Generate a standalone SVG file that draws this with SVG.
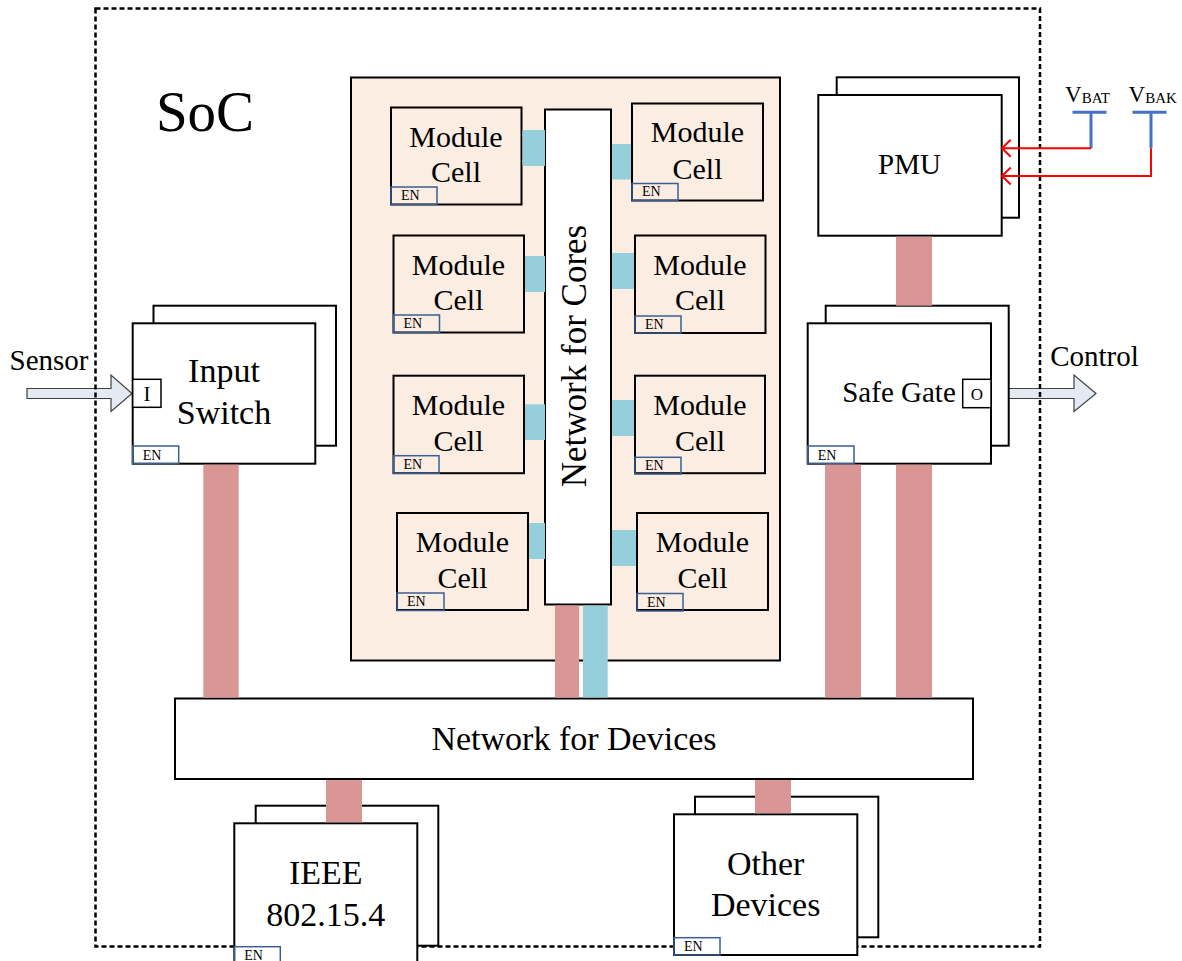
<svg xmlns="http://www.w3.org/2000/svg" width="1182" height="961" viewBox="0 0 1182 961">
<style>
.t{font-family:"Liberation Serif","Times New Roman",serif;fill:#000}
.box{fill:#fff;stroke:#000;stroke-width:2}
.peach{fill:#fcede3;stroke:#000;stroke-width:2}
.cell{fill:#fcede3;stroke:#000;stroke-width:2}
.en{fill:none;stroke:#3a5f95;stroke-width:1.5}
.ent{font-family:"Liberation Serif","Times New Roman",serif;font-size:14px;fill:#000}
.red{fill:#d99694}
.aqua{fill:#96cfdc}
.pin{fill:#fff;stroke:#000;stroke-width:1.5}
.barrow{fill:#e4eaf4;stroke:#404040;stroke-width:1.2}
.vline{stroke:#ff0000;stroke-width:2;fill:none}
.bat{stroke:#4472c4;stroke-width:3;fill:none}
</style>
<rect width="1182" height="961" fill="#fff"/>

<g id="io-arrows">
  <polygon class="barrow" points="27,388.5 111,388.5 111,375 132,393.5 111,411.5 111,398.5 27,398.5"/>
  <polygon class="barrow" points="991,388.5 1074,388.5 1074,375 1096,393.5 1074,411.5 1074,398.5 991,398.5"/>
</g>

<g id="soc-border">
  <rect x="95.5" y="8.5" width="944.5" height="938" fill="none" stroke="#000" stroke-width="2.5" stroke-dasharray="5 3"/>
  <text class="t" x="205" y="131" font-size="57" text-anchor="middle">SoC</text>
</g>

<g id="core-area">
  <rect class="peach" x="351" y="77.5" width="429" height="583"/>
</g>

<g id="network-cores">
  <rect class="box" x="545" y="109.5" width="66" height="495"/>
  <text class="t" x="586" y="356" font-size="35" text-anchor="middle" transform="rotate(-90 586 356)">Network for Cores</text>
</g>

<g id="cell-l1">
  <rect class="cell" x="391" y="107.5" width="130.5" height="97"/>
  <rect class="en" x="391" y="187" width="46" height="17.5"/>
  <text class="ent" x="401" y="200">EN</text>
  <text class="t" x="456" y="146.5" font-size="30" text-anchor="middle">Module</text>
  <text class="t" x="456" y="182" font-size="30" text-anchor="middle">Cell</text>
</g>
<g id="cell-r1">
  <rect class="cell" x="632" y="103.5" width="131" height="97"/>
  <rect class="en" x="632" y="183.5" width="46" height="17"/>
  <text class="ent" x="642" y="196">EN</text>
  <text class="t" x="697.5" y="142" font-size="30" text-anchor="middle">Module</text>
  <text class="t" x="697.5" y="178.5" font-size="30" text-anchor="middle">Cell</text>
</g>
<g id="cell-l2">
  <rect class="cell" x="393.5" y="235.5" width="130.5" height="97"/>
  <rect class="en" x="393.5" y="315" width="46" height="17.5"/>
  <text class="ent" x="403.5" y="328">EN</text>
  <text class="t" x="458.5" y="274.5" font-size="30" text-anchor="middle">Module</text>
  <text class="t" x="458.5" y="310" font-size="30" text-anchor="middle">Cell</text>
</g>
<g id="cell-r2">
  <rect class="cell" x="635" y="235.5" width="130.5" height="97.5"/>
  <rect class="en" x="635" y="316" width="46" height="17"/>
  <text class="ent" x="645" y="329">EN</text>
  <text class="t" x="700" y="274.5" font-size="30" text-anchor="middle">Module</text>
  <text class="t" x="700" y="310" font-size="30" text-anchor="middle">Cell</text>
</g>
<g id="cell-l3">
  <rect class="cell" x="393.5" y="375.7" width="130.5" height="97.5"/>
  <rect class="en" x="393.5" y="455.7" width="45.5" height="17.5"/>
  <text class="ent" x="403.5" y="469">EN</text>
  <text class="t" x="458.5" y="415" font-size="30" text-anchor="middle">Module</text>
  <text class="t" x="458.5" y="450.5" font-size="30" text-anchor="middle">Cell</text>
</g>
<g id="cell-r3">
  <rect class="cell" x="635" y="375.7" width="130" height="97.5"/>
  <rect class="en" x="635" y="457.3" width="46" height="16.7"/>
  <text class="ent" x="645" y="470">EN</text>
  <text class="t" x="700" y="415" font-size="30" text-anchor="middle">Module</text>
  <text class="t" x="700" y="450.5" font-size="30" text-anchor="middle">Cell</text>
</g>
<g id="cell-l4">
  <rect class="cell" x="397" y="513" width="131" height="97"/>
  <rect class="en" x="397" y="593" width="47" height="17.5"/>
  <text class="ent" x="407" y="606">EN</text>
  <text class="t" x="462.5" y="552" font-size="30" text-anchor="middle">Module</text>
  <text class="t" x="462.5" y="587.5" font-size="30" text-anchor="middle">Cell</text>
</g>
<g id="cell-r4">
  <rect class="cell" x="637" y="513" width="131" height="97"/>
  <rect class="en" x="637" y="593.5" width="46" height="17.5"/>
  <text class="ent" x="647" y="606.5">EN</text>
  <text class="t" x="702.5" y="552" font-size="30" text-anchor="middle">Module</text>
  <text class="t" x="702.5" y="587.5" font-size="30" text-anchor="middle">Cell</text>
</g>

<g id="input-switch">
  <rect class="box" x="153.5" y="305.7" width="182.5" height="140"/>
  <rect class="box" x="132.7" y="323.3" width="182.6" height="140.4"/>
  <rect class="pin" x="132.7" y="379.3" width="28.3" height="28"/>
  <text class="t" x="147" y="401" font-size="21" text-anchor="middle">I</text>
  <rect class="en" x="132.7" y="446" width="46" height="17.7"/>
  <text class="ent" x="142.7" y="459.5">EN</text>
  <text class="t" x="224" y="382" font-size="34" text-anchor="middle">Input</text>
  <text class="t" x="224" y="423.5" font-size="34" text-anchor="middle">Switch</text>
  <text class="t" x="49" y="369.5" font-size="29" text-anchor="middle">Sensor</text>
</g>

<g id="pmu">
  <rect class="box" x="836.7" y="77.3" width="182.3" height="140.4"/>
  <rect class="box" x="818.3" y="95" width="183.4" height="140.7"/>
  <text class="t" x="909.5" y="174" font-size="29" text-anchor="middle">PMU</text>
</g>

<g id="vbat">
  <text class="t" x="1065" y="102" font-size="23">V<tspan font-size="15" dy="1">BAT</tspan></text>
  <path class="bat" d="M1072.5,112.3 H1106.5 M1091,112.3 V148.3"/>
</g>
<g id="vbak">
  <text class="t" x="1128.5" y="102" font-size="23">V<tspan font-size="15" dy="1">BAK</tspan></text>
  <path class="bat" d="M1132.5,112.3 H1166.5 M1151,112.3 V148.3"/>
</g>

<g id="safe-gate">
  <rect class="box" x="825.7" y="305.7" width="183" height="140"/>
  <rect class="box" x="807.7" y="323.3" width="183.3" height="140.4"/>
  <rect class="pin" x="962.7" y="379.3" width="28.3" height="28.4"/>
  <text class="t" x="977" y="400" font-size="17" text-anchor="middle">O</text>
  <rect class="en" x="807.7" y="446" width="46.3" height="17.7"/>
  <text class="ent" x="817.7" y="459.5">EN</text>
  <text class="t" x="899" y="401.7" font-size="29" text-anchor="middle">Safe Gate</text>
  <text class="t" x="1094.5" y="366" font-size="29" text-anchor="middle">Control</text>
</g>

<g id="network-devices">
  <rect class="box" x="175" y="698.5" width="798" height="80.5"/>
  <text class="t" x="574" y="750" font-size="34" text-anchor="middle">Network for Devices</text>
</g>

<g id="ieee">
  <rect class="box" x="255.7" y="805.7" width="182.6" height="140"/>
  <rect class="box" x="234.3" y="823.3" width="183" height="150"/>
  <rect class="en" x="234.3" y="946.7" width="46" height="18"/>
  <text class="ent" x="244.3" y="960">EN</text>
  <text class="t" x="325.8" y="884" font-size="34" text-anchor="middle">IEEE</text>
  <text class="t" x="325.8" y="925.5" font-size="34" text-anchor="middle">802.15.4</text>
</g>

<g id="other-devices">
  <rect class="box" x="695" y="796.7" width="183.3" height="140.6"/>
  <rect class="box" x="674" y="814.3" width="183.3" height="140.7"/>
  <rect class="en" x="674" y="937.7" width="46" height="17.3"/>
  <text class="ent" x="684" y="951">EN</text>
  <text class="t" x="765.7" y="875" font-size="34" text-anchor="middle">Other</text>
  <text class="t" x="765.7" y="915.7" font-size="34" text-anchor="middle">Devices</text>
</g>

<g id="connectors">
  <rect class="aqua" x="522.5" y="130" width="22.5" height="36"/>
  <rect class="aqua" x="612" y="144" width="19" height="35.5"/>
  <rect class="aqua" x="525" y="256" width="20" height="36"/>
  <rect class="aqua" x="612" y="253" width="22" height="36"/>
  <rect class="aqua" x="525" y="404.3" width="20" height="35.7"/>
  <rect class="aqua" x="612" y="400" width="22" height="36"/>
  <rect class="aqua" x="529" y="523" width="16" height="36"/>
  <rect class="aqua" x="612" y="530" width="24" height="36"/>
  <rect class="red" x="555" y="605.5" width="24" height="92"/>
  <rect class="aqua" x="583" y="605.5" width="24.7" height="92"/>
  <rect class="red" x="203.3" y="464.7" width="35.4" height="232.8"/>
  <rect class="red" x="825" y="464.7" width="36" height="232.8"/>
  <rect class="red" x="896" y="464.7" width="36" height="232.8"/>
  <rect class="red" x="896" y="236.7" width="36" height="69"/>
  <rect class="red" x="326" y="780" width="36" height="42.3"/>
  <rect class="red" x="755" y="780" width="36" height="33.3"/>
  <path class="vline" d="M1091,148.3 H1002 M1010.7,139.8 L1002,148.3 L1010.7,156.8"/>
  <path class="vline" d="M1151,148.3 V176 H1002 M1010.7,167.5 L1002,176 L1010.7,184.5"/>
</g>
</svg>
